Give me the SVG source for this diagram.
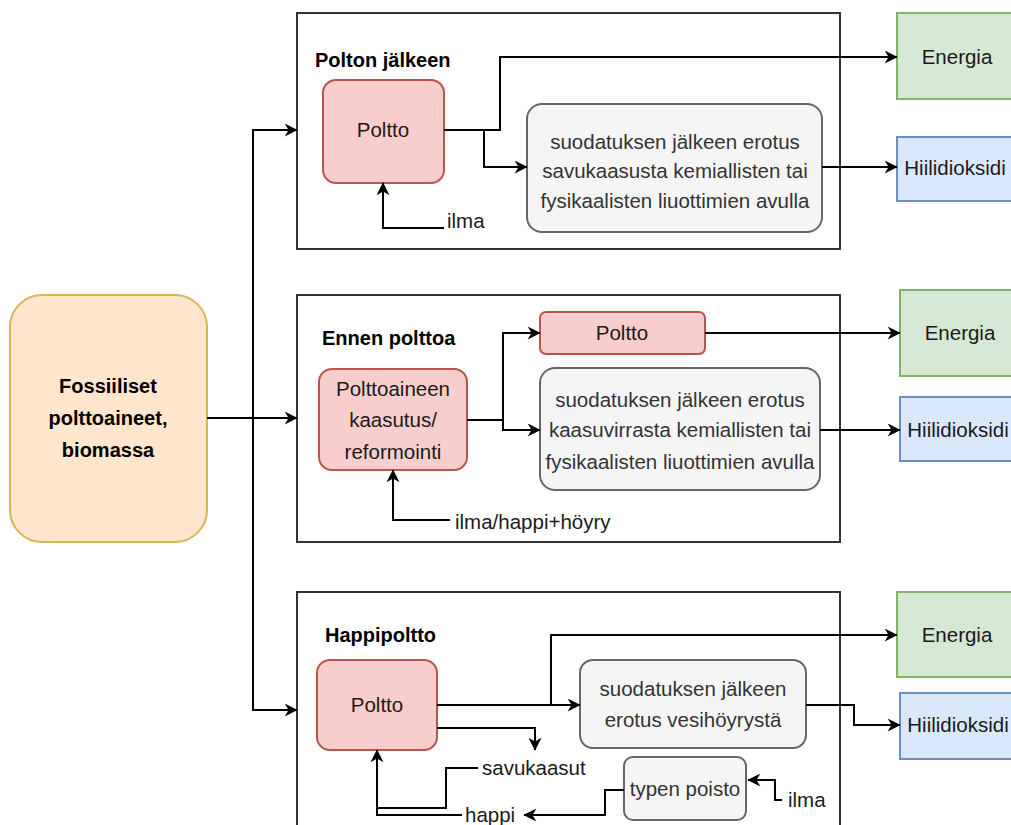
<svg xmlns="http://www.w3.org/2000/svg" width="1011" height="825" viewBox="0 0 1011 825">
<style>
text{font-family:"Liberation Sans",Arial,sans-serif;font-size:20.5px;fill:#1a1a1a}
.t{font-weight:bold;font-size:20px;fill:#000}
.c{text-anchor:middle}
.g{fill:#333}
.sec{fill:#fff;stroke:#333;stroke-width:2}
.red{fill:#f8cecc;stroke:#b85450;stroke-width:2}
.gry{fill:#f5f5f5;stroke:#666;stroke-width:2}
.grn{fill:#d5e8d4;stroke:#82b366;stroke-width:2}
.blu{fill:#dae8fc;stroke:#6c8ebf;stroke-width:2}
.org{fill:#ffe6cc;stroke:#d6b656;stroke-width:2}
.e{fill:none;stroke:#000;stroke-width:2}
.a{marker-end:url(#arr)}
</style>
<defs>
<marker id="arr" viewBox="0 0 10 10" refX="9.5" refY="5" markerWidth="14" markerHeight="13" markerUnits="userSpaceOnUse" orient="auto">
<path d="M0,0 L10,5 L0,10 L3,5 z" fill="#000"/>
</marker>
</defs>
<rect width="1011" height="825" fill="#fff"/>

<g id="section1">
<rect class="sec" x="297" y="13" width="543" height="236"/>
<text class="t" x="315" y="67">Polton jälkeen</text>
</g>
<g id="section2">
<rect class="sec" x="297" y="295" width="543" height="247"/>
<text class="t" x="322" y="345">Ennen polttoa</text>
</g>
<g id="section3">
<rect class="sec" x="297" y="592" width="543" height="250"/>
<text class="t" x="325" y="642">Happipoltto</text>
</g>

<g id="source">
<rect class="org" x="10" y="295" width="197" height="247" rx="32"/>
<text class="t c" x="108" y="393">Fossiiliset</text>
<text class="t c" x="108" y="425">polttoaineet,</text>
<text class="t c" x="108" y="457">biomassa</text>
</g>

<g id="poltto1">
<rect class="red" x="323" y="80" width="121" height="103" rx="13"/>
<text class="c" x="383" y="137">Poltto</text>
</g>
<g id="erotus1">
<rect class="gry" x="527" y="104" width="295" height="128" rx="15"/>
<text class="c g" x="675" y="149">suodatuksen jälkeen erotus</text>
<text class="c g" x="675" y="178">savukaasusta kemiallisten tai</text>
<text class="c g" x="675" y="208">fysikaalisten liuottimien avulla</text>
</g>
<g id="energia1">
<rect class="grn" x="897" y="13" width="122" height="86"/>
<text class="c" x="957" y="64">Energia</text>
</g>
<g id="co2_1">
<rect class="blu" x="897" y="137" width="122" height="64"/>
<text class="c" x="955" y="175">Hiilidioksidi</text>
</g>
<g id="ilma1"><text x="447" y="228">ilma</text></g>

<g id="kaasutus">
<rect class="red" x="319" y="369" width="148" height="101" rx="13"/>
<text class="c" x="393" y="396">Polttoaineen</text>
<text class="c" x="393" y="427">kaasutus/</text>
<text class="c" x="393" y="459">reformointi</text>
</g>
<g id="poltto2">
<rect class="red" x="540" y="312" width="165" height="42" rx="6"/>
<text class="c" x="622" y="340">Poltto</text>
</g>
<g id="erotus2">
<rect class="gry" x="540" y="368" width="280" height="122" rx="15"/>
<text class="c g" x="680" y="407">suodatuksen jälkeen erotus</text>
<text class="c g" x="680" y="437">kaasuvirrasta kemiallisten tai</text>
<text class="c g" x="680" y="469">fysikaalisten liuottimien avulla</text>
</g>
<g id="energia2">
<rect class="grn" x="900" y="290" width="122" height="86"/>
<text class="c" x="960" y="340">Energia</text>
</g>
<g id="co2_2">
<rect class="blu" x="900" y="397" width="122" height="64"/>
<text class="c" x="958" y="437">Hiilidioksidi</text>
</g>
<g id="ilma2"><text x="455" y="529">ilma/happi+höyry</text></g>

<g id="poltto3">
<rect class="red" x="317" y="660" width="120" height="90" rx="13"/>
<text class="c" x="377" y="712">Poltto</text>
</g>
<g id="erotus3">
<rect class="gry" x="580" y="660" width="226" height="88" rx="13"/>
<text class="c g" x="693" y="696">suodatuksen jälkeen</text>
<text class="c g" x="693" y="727">erotus vesihöyrystä</text>
</g>
<g id="energia3">
<rect class="grn" x="897" y="592" width="122" height="85"/>
<text class="c" x="957" y="642">Energia</text>
</g>
<g id="co2_3">
<rect class="blu" x="900" y="693" width="122" height="66"/>
<text class="c" x="958" y="732">Hiilidioksidi</text>
</g>
<g id="typen">
<rect class="gry" x="624" y="757" width="122" height="63" rx="9"/>
<text class="c g" x="685" y="796">typen poisto</text>
</g>
<g id="labels3">
<text x="482" y="775">savukaasut</text>
<text x="465" y="822">happi</text>
<text x="788" y="807">ilma</text>
</g>

<g id="connectors">
<path class="e a" d="M207 418 H297"/>
<path class="e a" d="M253 418 V130 H297"/>
<path class="e a" d="M253 418 V710 H297"/>

<path class="e a" d="M444 130 H500 V57 H897"/>
<path class="e a" d="M484 130 V167 H527"/>
<path class="e a" d="M822 167 H897"/>
<path class="e a" d="M444 228 H383 V183"/>

<path class="e" d="M467 420 H503"/>
<path class="e a" d="M503 420 V333 H540"/>
<path class="e a" d="M503 420 V430 H540"/>
<path class="e a" d="M705 333 H900"/>
<path class="e a" d="M820 430 H900"/>
<path class="e a" d="M450 520 H393 V470"/>

<path class="e a" d="M437 705 H580"/>
<path class="e a" d="M551 705 V635 H897"/>
<path class="e a" d="M806 705 H854 V725 H900"/>
<path class="e a" d="M437 728 H535 V750"/>
<path class="e" d="M478 768 H446 V808 H377"/>
<path class="e a" d="M462 815 H377 V750"/>
<path class="e a" d="M624 790 H605 V815 H524"/>
<path class="e a" d="M782 800 H775 V780 H748"/>
</g>
</svg>
